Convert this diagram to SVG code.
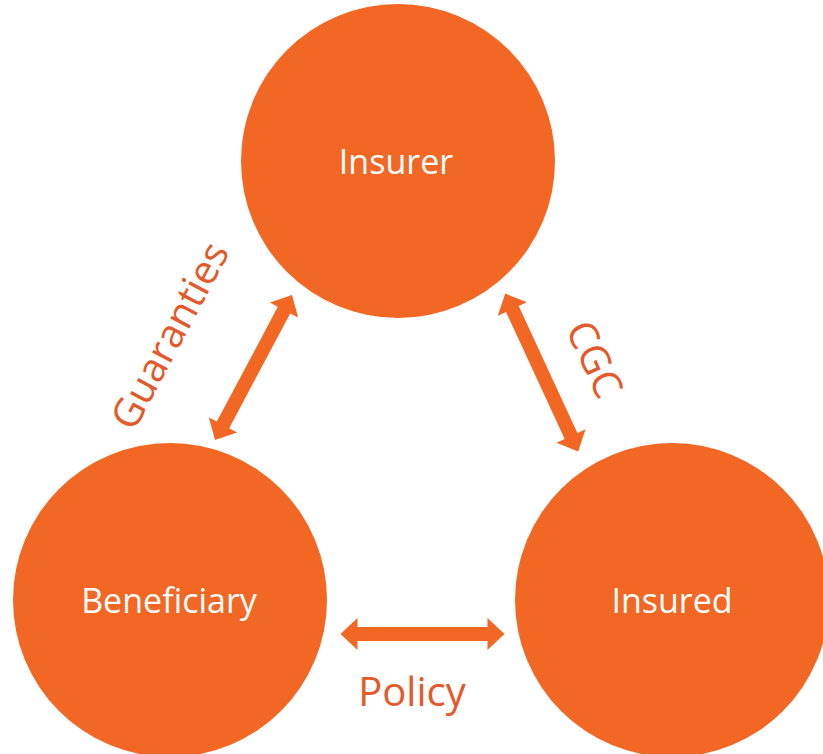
<svg xmlns="http://www.w3.org/2000/svg" width="823" height="754" viewBox="0 0 823 754">
  <style>
    .node { fill: #F26724; }
    .node-label { fill: #FFFFFF; font-family: "Open Sans", "Noto Sans", sans-serif; font-size: 34px; text-anchor: middle; }
    .arrow { fill: #F26724; }
    .edge-label { fill: #E4592A; font-family: "Open Sans", "Noto Sans", sans-serif; font-size: 40px; text-anchor: middle; }
  </style>
  <defs>
    <!-- double-headed block arrows centred on the origin, laid along x -->
    <path id="dbl-82" d="M-82,0 L-65,-16 L-65,-7 L65,-7 L65,-16 L82,0 L65,16 L65,7 L-65,7 L-65,16 Z"/>
    <path id="dbl-87" d="M-87,0 L-70,-16 L-70,-7 L70,-7 L70,-16 L87,0 L70,16 L70,7 L-70,7 L-70,16 Z"/>
  </defs>

  <g id="insurer">
    <circle class="node" cx="398" cy="161" r="157"/>
    <text class="node-label" x="396" y="174">Insurer</text>
  </g>

  <g id="beneficiary">
    <circle class="node" cx="170" cy="600" r="157"/>
    <text class="node-label" x="169" y="613">Beneficiary</text>
  </g>

  <g id="insured">
    <circle class="node" cx="672" cy="600" r="157"/>
    <text class="node-label" x="672" y="613">Insured</text>
  </g>

  <g id="connectors">
    <g id="edge-guaranties">
      <use href="#dbl-82" class="arrow" transform="translate(253.5 367.5) rotate(-62)"/>
      <text class="edge-label" transform="translate(182 342) rotate(-62)">Guaranties</text>
    </g>
    <g id="edge-cgc">
      <use href="#dbl-87" class="arrow" transform="translate(541.7 372.5) rotate(65.2)"/>
      <text class="edge-label" transform="translate(582 365) rotate(65.2)">CGC</text>
    </g>
    <g id="edge-policy">
      <use href="#dbl-82" class="arrow" transform="translate(422.5 634)"/>
      <text class="edge-label" x="412" y="706" font-size="39">Policy</text>
    </g>
  </g>
</svg>
